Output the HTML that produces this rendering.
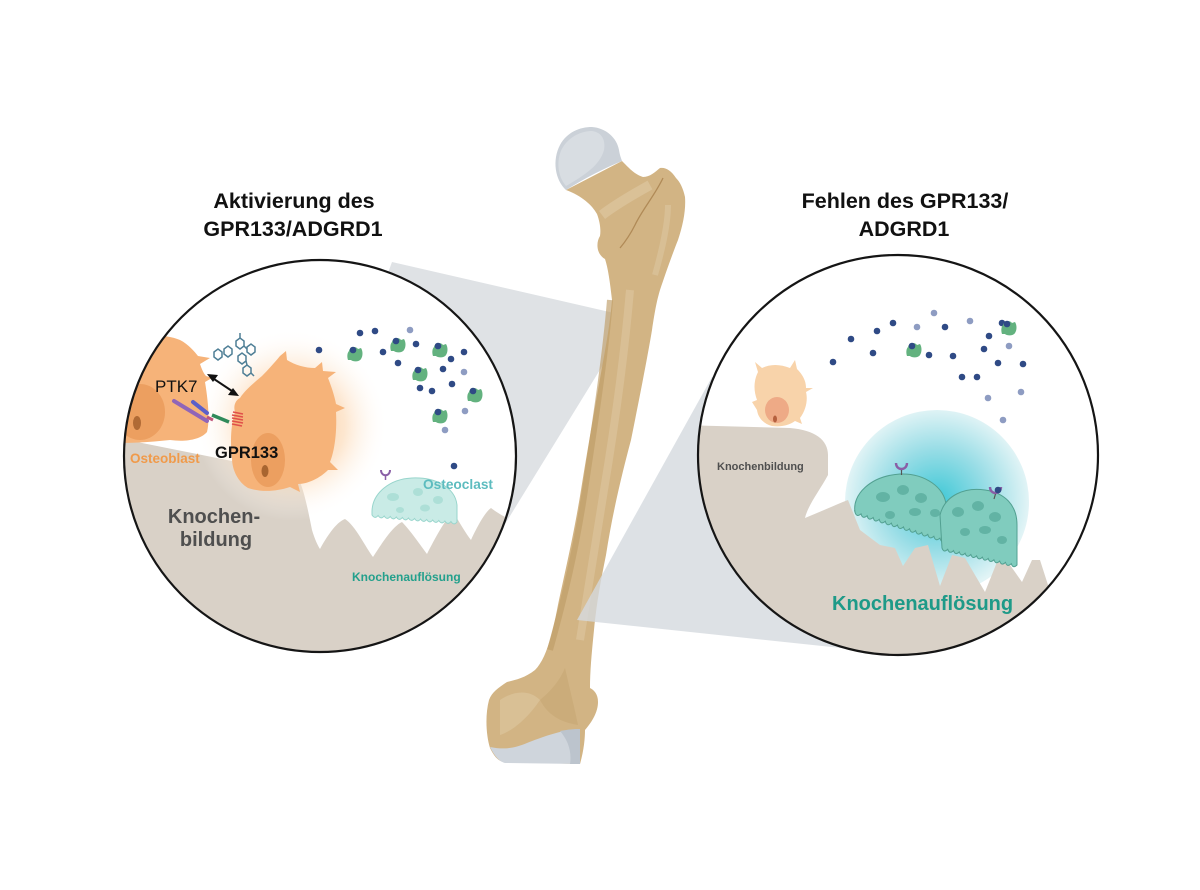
<!DOCTYPE html>
<html><head><meta charset="utf-8"><style>
html,body{margin:0;padding:0;background:#fff;}
svg{display:block;}
text{font-family:"Liberation Sans",Arial,sans-serif;}
</style></head><body>
<svg width="1200" height="890" viewBox="0 0 1200 890" xmlns="http://www.w3.org/2000/svg">
<defs>
  <clipPath id="cl"><circle cx="320" cy="456" r="196"/></clipPath>
  <clipPath id="cr"><circle cx="898" cy="455" r="200"/></clipPath>
  <radialGradient id="og" gradientUnits="userSpaceOnUse" cx="292" cy="425" r="96">
    <stop offset="0" stop-color="#f8bf86" stop-opacity="0.95"/>
    <stop offset="0.55" stop-color="#fcdcbb" stop-opacity="0.7"/>
    <stop offset="1" stop-color="#ffffff" stop-opacity="0"/>
  </radialGradient>
  <radialGradient id="tg" gradientUnits="userSpaceOnUse" cx="937" cy="500" r="92">
    <stop offset="0" stop-color="#3ec8d6"/>
    <stop offset="0.55" stop-color="#98dde6"/>
    <stop offset="1" stop-color="#e2f4f6"/>
  </radialGradient>
  <g id="gp">
    <path d="M-6,-3 C-5,-8 1,-8 3,-5 L6,-6 C8,-3 8,2 6,5 C4,8 -2,8 -4,6 L-7,6 C-8,3 -8,-1 -6,-3 Z" fill="#63b27f"/>
    <circle cx="-2" cy="-4" r="3.3" fill="#2f4a85"/>
  </g>
</defs>

<!-- Titles -->
<text x="294" y="208" font-size="21.5" font-weight="bold" text-anchor="middle" fill="#111">Aktivierung des</text>
<text x="293" y="236" font-size="21.5" font-weight="bold" text-anchor="middle" fill="#111">GPR133/ADGRD1</text>
<text x="905" y="208" font-size="21.5" font-weight="bold" text-anchor="middle" fill="#111">Fehlen des GPR133/</text>
<text x="904" y="236" font-size="21.5" font-weight="bold" text-anchor="middle" fill="#111">ADGRD1</text>

<!-- Left wedge (behind bone) -->
<polygon points="392,262 614,313 614,347 486,555 320,456" fill="#dfe2e5"/>

<!-- Bone -->
<g>
  <path d="M566,190 C582,196 592,205 597,214 C600,222 601,230 600,236 C596,242 596,254 605,259 C608,268 610,282 612,300 C611,312 609,328 606,345 C598,390 589,440 581,490 C573,540 563,580 557,610 C551,640 545,660 535,670 C525,678 515,680 507,682 C498,688 492,692 489,700 C485,715 486,735 490,748 C494,756 497,760 503,762 L580,764 C584,750 585,738 585,730 C592,722 598,712 598,702 C598,694 594,690 590,688 C590,670 592,650 594,630 C597,600 601,580 606,555 C613,510 623,470 631,440 C639,400 647,360 652,330 C655,310 657,300 660,290 C665,275 672,255 678,240 C683,225 686,210 685,197 C683,188 680,182 676,178 C671,170 665,167 660,168 C655,172 650,177 643,177 C635,175 628,167 622,161 Z" fill="#d2b484"/>
  <!-- shading -->
  <path d="M610,300 C605,360 594,430 585,490 C576,550 564,600 550,650" stroke="#bf9c67" stroke-width="6" fill="none" opacity="0.65"/>
  <path d="M630,290 C624,360 614,430 604,490 C596,540 588,590 580,640" stroke="#dbc39b" stroke-width="8" fill="none" opacity="0.75"/>
  <path d="M602,215 C615,205 632,195 650,185" stroke="#ddc6a0" stroke-width="10" fill="none" opacity="0.7"/>
  <path d="M663,178 C655,195 642,210 635,225 C630,235 625,242 620,248" stroke="#b08a57" stroke-width="1.3" fill="none"/>
  <path d="M668,205 C668,225 662,250 655,275" stroke="#dcc6a0" stroke-width="6" fill="none" opacity="0.6"/>
  <path d="M540,700 C552,690 560,680 565,668 C570,690 575,710 578,725 C560,722 548,715 540,700 Z" fill="#c6a673" opacity="0.6"/>
  <path d="M500,700 C515,690 530,690 540,700 C530,715 515,730 500,735 Z" fill="#dcc49c" opacity="0.7"/>
  <!-- femoral head -->
  <path d="M566,190 C555,180 552,160 560,145 C567,132 580,127 592,127 C606,128 617,138 619,150 C620,156 621,158 622,161 C605,168 585,178 566,190 Z" fill="#cbd1d8"/>
  <path d="M566,186 C557,176 556,158 563,147 C570,136 582,131 592,131 C600,132 606,138 604,150 C600,165 585,175 566,186 Z" fill="#d8dde2"/>
  <!-- distal cartilage -->
  <path d="M490,747 C495,757 500,762 505,763 L580,764 L580,729 C560,730 540,738 527,743 C515,748 505,750 490,747 Z" fill="#cfd5dc"/>
  <path d="M560,731 C570,729 578,729 580,729 L580,764 L570,764 C572,752 568,740 560,731 Z" fill="#bcc4cd"/>
</g>

<!-- Right wedge (over bone, translucent) -->
<polygon points="577,620 712,377 898,455 860,650" fill="#d5dadf" opacity="0.8"/>

<!-- LEFT CIRCLE -->
<circle cx="320" cy="456" r="196" fill="#fff"/>
<g clip-path="url(#cl)">
  <path d="M100,439 L127,440 L232,461 L300,482 C305,495 308,510 312,530 C315,540 318,546 320,549 C326,538 336,522 345,519 C355,525 366,548 373,557 C382,543 393,526 402,522 C410,530 421,546 427,554 C434,540 446,518 453,512 C460,523 466,534 471,540 C477,527 485,512 491,508 C500,515 510,520 525,525 L525,670 L100,670 Z" fill="#d9d1c7"/>
  <circle cx="292" cy="425" r="96" fill="url(#og)"/>
  <!-- left osteoblast -->
  <path d="M105,345 C130,335 160,332 180,340 C188,344 195,352 198,356 L210,358 L200,364 C202,370 204,374 206,376 L212,378 L205,382 C208,400 210,420 207,432 C200,440 185,442 170,440 C150,442 130,444 105,442 Z" fill="#f6b379"/>
  <ellipse cx="140" cy="412" rx="25" ry="28" fill="#ec9f60"/>
  <ellipse cx="137" cy="423" rx="4" ry="7" fill="#b06a35"/>
  <!-- GPR133 osteoblast -->
  <path d="M240,398 C245,390 255,382 262,376 C268,370 275,362 280,356 L286,351 L287,360 C295,365 305,368 315,368 L322,362 L323,371 L336,372 L328,378 C332,388 335,398 336,404 L345,408 L336,412 C337,430 335,450 330,462 L338,470 L328,470 C320,478 308,484 298,484 L300,492 L290,487 C275,492 260,492 248,488 C238,482 232,470 232,458 C230,440 231,425 235,412 C233,405 236,400 240,398 Z" fill="#f6b379"/>
  <ellipse cx="268" cy="460" rx="17" ry="27" fill="#ec9f60"/>
  <ellipse cx="265" cy="471" rx="3.5" ry="6" fill="#a86530"/>
  <!-- molecules -->
  <g stroke="#4f7f96" stroke-width="1.5" fill="none">
    <polygon points="214,352 218,349 222,352 222,357 218,360 214,357"/>
    <polygon points="224,349 228,346 232,349 232,354 228,357 224,354"/>
    <polygon points="236,341 240,338 244,341 244,346 240,349 236,346"/>
    <polygon points="238,356 242,353 246,356 246,361 242,364 238,361"/>
    <polygon points="243,368 247,365 251,368 251,373 247,376 243,373"/>
    <polygon points="247,347 251,344 255,347 255,352 251,355 247,352"/>
    <path d="M244,346 L247,349 M246,361 L247,365 M240,338 L240,333 M251,373 L254,376"/>
  </g>
  <!-- double arrow -->
  <line x1="214" y1="379" x2="232" y2="391" stroke="#111" stroke-width="2"/>
  <polygon points="207,374 218,375 213,382" fill="#111"/>
  <polygon points="239,396 228,395 233,388" fill="#111"/>
  <!-- receptors -->
  <line x1="174" y1="401" x2="207" y2="421" stroke="#9065b8" stroke-width="4" stroke-linecap="round"/>
  <line x1="193" y1="402" x2="207" y2="413" stroke="#5c5fc9" stroke-width="4" stroke-linecap="round"/>
  <line x1="207" y1="417" x2="213" y2="420" stroke="#c0557a" stroke-width="3"/>
  <line x1="212" y1="415" x2="229" y2="422" stroke="#2f8a5a" stroke-width="3.5"/>
  <g stroke="#e0504a" stroke-width="1.6">
    <line x1="233" y1="412" x2="243" y2="414"/>
    <line x1="232" y1="415" x2="243" y2="417"/>
    <line x1="232" y1="418" x2="243" y2="420"/>
    <line x1="232" y1="421" x2="243" y2="423"/>
    <line x1="232" y1="424" x2="242" y2="426"/>
  </g>
  <!-- dots and proteins -->
  <g fill="#2f4a85">
    <circle cx="319" cy="350" r="3.3"/><circle cx="360" cy="333" r="3.3"/><circle cx="375" cy="331" r="3.3"/>
    <circle cx="416" cy="344" r="3.3"/><circle cx="383" cy="352" r="3.3"/><circle cx="398" cy="363" r="3.3"/>
    <circle cx="451" cy="359" r="3.3"/><circle cx="464" cy="352" r="3.3"/><circle cx="443" cy="369" r="3.3"/>
    <circle cx="420" cy="388" r="3.3"/><circle cx="432" cy="391" r="3.3"/><circle cx="452" cy="384" r="3.3"/>
    <circle cx="454" cy="466" r="3.3"/>
  </g>
  <g fill="#8e9cc2">
    <circle cx="410" cy="330" r="3.3"/><circle cx="464" cy="372" r="3.3"/><circle cx="465" cy="411" r="3.3"/><circle cx="445" cy="430" r="3.3"/>
  </g>
  <use href="#gp" transform="translate(355,354)"/>
  <use href="#gp" transform="translate(398,345)"/>
  <use href="#gp" transform="translate(440,350)"/>
  <use href="#gp" transform="translate(420,374)"/>
  <use href="#gp" transform="translate(475,395)"/>
  <use href="#gp" transform="translate(440,416)"/>
  <!-- pale osteoclast -->
  <path d="M372,512 C372,493 390,479 412,478 C435,477 455,487 457,505 L457,522 q-3,4 -6.07,-0.5 q-3,4 -6.07,-0.5 q-3,4 -6.07,-0.5 q-3,4 -6.07,-0.5 q-3,4 -6.07,-0.5 q-3,4 -6.07,-0.5 q-3,4 -6.07,-0.5 q-3,4 -6.07,-0.5 q-3,4 -6.07,-0.5 q-3,4 -6.07,-0.5 q-3,4 -6.07,-0.5 q-3,4 -6.07,-0.5 q-3,4 -6.07,-0.5 q-3,4 -6.07,-0.5 Z" fill="#c9ebe6" stroke="#98d5cc" stroke-width="1"/>
  <g fill="#addfd7">
    <ellipse cx="393" cy="497" rx="6" ry="4"/><ellipse cx="418" cy="492" rx="5" ry="4"/><ellipse cx="438" cy="500" rx="5" ry="4"/><ellipse cx="425" cy="508" rx="5" ry="3.5"/><ellipse cx="400" cy="510" rx="4" ry="3"/>
  </g>
  <path d="M381,470 C381,477 390,477 390,470" stroke="#8a5fa6" stroke-width="2" fill="none"/>
  <line x1="385.5" y1="476" x2="385.5" y2="480" stroke="#8a5fa6" stroke-width="1.5"/>
  <!-- labels -->
  <text x="155" y="392" font-size="17" fill="#111">PTK7</text>
  <text x="215" y="458" font-size="16.5" font-weight="bold" fill="#111">GPR133</text>
  <text x="130" y="463" font-size="13.5" font-weight="bold" fill="#f09a4a">Osteoblast</text>
  <text x="423" y="489" font-size="13.7" font-weight="bold" fill="#5dbcbf">Osteoclast</text>
  <text x="214" y="523" font-size="20" font-weight="bold" text-anchor="middle" fill="#4f4f4f">Knochen-</text>
  <text x="216" y="546" font-size="20" font-weight="bold" text-anchor="middle" fill="#4f4f4f">bildung</text>
  <text x="352" y="581" font-size="12" font-weight="bold" fill="#23a08c">Knochenauflösung</text>
</g>
<circle cx="320" cy="456" r="196" fill="none" stroke="#151515" stroke-width="2.2"/>

<!-- RIGHT CIRCLE -->
<circle cx="898" cy="455" r="200" fill="#fff"/>
<g clip-path="url(#cr)">
  <circle cx="937" cy="502" r="92" fill="url(#tg)"/>
  <path d="M680,425 L790,428 C815,430 828,440 828,455 L828,475 C820,490 808,505 805,518 C820,512 835,505 848,500 L860,530 L880,545 L895,548 L903,566 L915,548 L928,545 L940,586 L952,555 L965,558 L985,592 L997,562 L1010,565 L1022,582 L1032,560 L1040,560 L1048,585 L1060,600 L1110,600 L1110,700 L680,700 Z" fill="#d9d1c7"/>
  <!-- small osteoblast -->
  <path d="M758,372 L755,362 L762,368 C770,364 780,364 790,368 L795,360 L797,369 C802,374 806,380 806,388 L813,388 L806,392 C808,400 806,410 800,418 L802,424 L795,421 C788,426 780,427 772,426 C764,424 758,418 757,410 L752,402 L757,400 C754,392 753,382 758,372 Z" fill="#f8d3aa"/>
  <ellipse cx="777" cy="410" rx="12" ry="13" fill="#eeaa86"/>
  <ellipse cx="775" cy="419" rx="2" ry="3.5" fill="#b5603e"/>
  <!-- osteoclasts -->
  <path d="M855,512 C852,495 870,476 900,474 C925,473 945,488 946,505 L946,540 q-4.5,4 -6.07,-1.87 q-4.5,4 -6.07,-1.87 q-4.5,4 -6.07,-1.87 q-4.5,4 -6.07,-1.87 q-4.5,4 -6.07,-1.87 q-4.5,4 -6.07,-1.87 q-4.5,4 -6.07,-1.87 q-4.5,4 -6.07,-1.87 q-4.5,4 -6.07,-1.87 q-4.5,4 -6.07,-1.87 q-4.5,4 -6.07,-1.87 q-4.5,4 -6.07,-1.87 q-4.5,4 -6.07,-1.87 q-4.5,4 -6.07,-1.87 q-4.5,4 -6.07,-1.87 Z" fill="#80ccbe" stroke="#52a091" stroke-width="1"/>
  <g fill="#62b3a4">
    <ellipse cx="883" cy="497" rx="7" ry="5"/><ellipse cx="903" cy="490" rx="6" ry="5"/><ellipse cx="921" cy="498" rx="6" ry="5"/><ellipse cx="915" cy="512" rx="6" ry="4"/><ellipse cx="935" cy="513" rx="5" ry="4"/><ellipse cx="890" cy="515" rx="5" ry="4"/>
  </g>
  <path d="M940,515 C945,495 965,487 985,490 C1005,493 1017,505 1017,525 L1017,565 q-4,4 -5.77,-1.31 q-4,4 -5.77,-1.31 q-4,4 -5.77,-1.31 q-4,4 -5.77,-1.31 q-4,4 -5.77,-1.31 q-4,4 -5.77,-1.31 q-4,4 -5.77,-1.31 q-4,4 -5.77,-1.31 q-4,4 -5.77,-1.31 q-4,4 -5.77,-1.31 q-4,4 -5.77,-1.31 q-4,4 -5.77,-1.31 q-4,4 -5.77,-1.31 Z" fill="#80ccbe" stroke="#52a091" stroke-width="1"/>
  <g fill="#62b3a4">
    <ellipse cx="958" cy="512" rx="6" ry="5"/><ellipse cx="978" cy="506" rx="6" ry="5"/><ellipse cx="995" cy="517" rx="6" ry="5"/><ellipse cx="985" cy="530" rx="6" ry="4"/><ellipse cx="1002" cy="540" rx="5" ry="4"/><ellipse cx="965" cy="532" rx="5" ry="4"/>
  </g>
  <path d="M896,463 C896,471 907,471 907,463" stroke="#8a5fa6" stroke-width="2.4" fill="none"/>
  <line x1="901.5" y1="470" x2="901.5" y2="475" stroke="#555" stroke-width="1.2"/>
  <path d="M990,487 C990,495 1001,495 1001,487" stroke="#8a5fa6" stroke-width="2.4" fill="none"/>
  <line x1="995.5" y1="494" x2="994" y2="499" stroke="#555" stroke-width="1.2"/>
  <circle cx="998" cy="490" r="3.3" fill="#2f4a85"/>
  <!-- dots -->
  <g fill="#2f4a85">
    <circle cx="893" cy="323" r="3.3"/><circle cx="1002" cy="323" r="3.3"/><circle cx="877" cy="331" r="3.3"/><circle cx="945" cy="327" r="3.3"/>
    <circle cx="851" cy="339" r="3.3"/><circle cx="989" cy="336" r="3.3"/><circle cx="873" cy="353" r="3.3"/>
    <circle cx="929" cy="355" r="3.3"/><circle cx="953" cy="356" r="3.3"/><circle cx="984" cy="349" r="3.3"/><circle cx="833" cy="362" r="3.3"/>
    <circle cx="998" cy="363" r="3.3"/><circle cx="1023" cy="364" r="3.3"/><circle cx="962" cy="377" r="3.3"/><circle cx="977" cy="377" r="3.3"/>
  </g>
  <g fill="#8e9cc2">
    <circle cx="934" cy="313" r="3.3"/><circle cx="970" cy="321" r="3.3"/><circle cx="917" cy="327" r="3.3"/><circle cx="1009" cy="346" r="3.3"/>
    <circle cx="988" cy="398" r="3.3"/><circle cx="1021" cy="392" r="3.3"/><circle cx="1003" cy="420" r="3.3"/>
  </g>
  <use href="#gp" transform="translate(914,350)"/>
  <use href="#gp" transform="translate(1009,328)"/>
  <text x="717" y="470" font-size="11" font-weight="bold" fill="#4f4f4f">Knochenbildung</text>
  <text x="832" y="610" font-size="20" font-weight="bold" fill="#1e9a88">Knochenauflösung</text>
</g>
<circle cx="898" cy="455" r="200" fill="none" stroke="#151515" stroke-width="2.2"/>
</svg>
</body></html>
